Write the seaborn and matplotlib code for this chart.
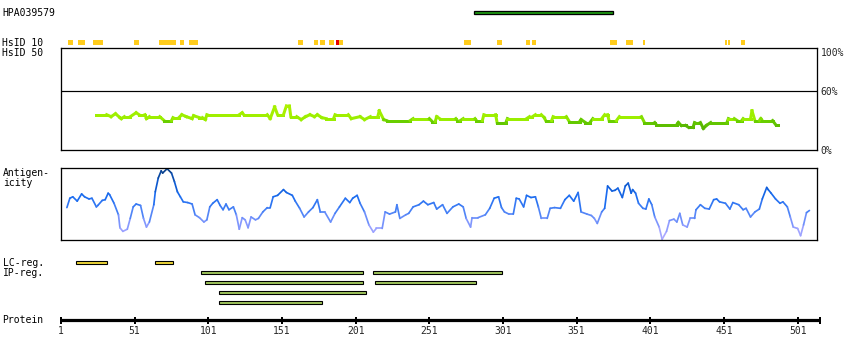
import numpy as np
import matplotlib
matplotlib.use("Agg")
import matplotlib.pyplot as plt
import seaborn as sns
from matplotlib.collections import LineCollection
from matplotlib.colors import LinearSegmentedColormap, Normalize

# --- data (residue positions) ---
protein_length = 516
protein_ticks = [1, 51, 101, 151, 201, 251, 301, 351, 401, 451, 501]

antigen_name = "HPA039579"
antigen_start = 281
antigen_end = 376

# HsID 10 hits (start, end, 1 = high identity)
hsid10_start = [6, 13, 23, 26, 51, 68, 76, 82, 88, 162, 173, 177, 183, 188, 190,
                275, 297, 317, 321, 374, 385, 396, 452, 454, 463]
hsid10_end = [9, 17, 25, 29, 54, 76, 79, 84, 94, 165, 175, 180, 186, 190, 192,
              279, 300, 319, 323, 378, 389, 397, 453, 455, 465]
hsid10_high = [0, 0, 0, 0, 0, 0, 0, 0, 0, 0, 0, 0, 0, 1, 0,
               0, 0, 0, 0, 0, 0, 0, 0, 0, 0]

# HsID 50 identity (%)
identity_pos = [25, 32, 35, 38, 41, 42, 44, 48, 52, 54,
                58, 59, 61, 68, 71, 76, 77, 81, 83, 86,
                90, 91, 95, 97, 99, 100, 122, 124, 125, 141,
                143, 146, 148, 152, 154, 156, 157, 161, 164, 167,
                170, 173, 175, 178, 181, 186, 187, 196, 198, 204,
                207, 211, 216, 217, 220, 222, 238, 240, 251, 253,
                255, 256, 258, 269, 270, 272, 274, 282, 283, 287,
                288, 296, 297, 303, 304, 317, 319, 321, 323, 327,
                329, 330, 334, 335, 344, 346, 353, 354, 357, 360,
                362, 368, 370, 372, 373, 378, 380, 395, 397, 404,
                405, 419, 420, 422, 425, 427, 430, 431, 435, 437,
                439, 442, 453, 454, 458, 460, 463, 464, 469, 470,
                472, 475, 476, 477, 484, 486, 488]
identity_pct = [36, 36, 34, 37, 33, 32, 34, 34, 38, 36,
                36, 32, 34, 34, 30, 30, 33, 33, 36, 34,
                32, 35, 33, 33, 31, 36, 36, 38, 36, 36,
                32, 44, 36, 36, 45, 45, 34, 34, 31, 34,
                36, 34, 36, 33, 32, 32, 36, 36, 32, 34,
                31, 34, 34, 40, 31, 30, 30, 32, 32, 29,
                29, 34, 32, 32, 30, 30, 32, 32, 30, 30,
                36, 36, 28, 28, 32, 32, 34, 34, 36, 36,
                33, 30, 30, 34, 34, 29, 29, 31, 28, 28,
                32, 32, 36, 36, 30, 30, 34, 34, 28, 28,
                26, 26, 28, 25, 25, 23, 23, 28, 28, 22,
                25, 28, 28, 32, 32, 30, 30, 32, 32, 40,
                30, 30, 32, 30, 30, 26, 26]

# antigenicity score (0-100)
antigenicity_pos = [5, 7, 9, 12, 15, 17, 20, 22, 25, 26,
                    29, 31, 33, 34, 37, 40, 41, 43, 46, 48,
                    50, 52, 55, 57, 59, 61, 64, 65, 67, 69,
                    70, 73, 76, 78, 80, 82, 84, 87, 90, 92,
                    95, 98, 100, 102, 104, 107, 109, 111, 113, 115,
                    118, 120, 122, 124, 126, 128, 130, 133, 135, 138,
                    141, 143, 145, 148, 152, 154, 158, 160, 163, 166,
                    169, 172, 175, 177, 180, 184, 187, 190, 194, 197,
                    199, 202, 204, 207, 210, 213, 215, 219, 221, 224,
                    228, 229, 231, 235, 237, 240, 244, 247, 250, 254,
                    256, 260, 263, 267, 271, 274, 276, 279, 280, 284,
                    289, 292, 295, 298, 300, 302, 305, 308, 310, 312,
                    315, 317, 320, 323, 325, 327, 331, 333, 336, 340,
                    343, 346, 349, 352, 354, 358, 361, 363, 365, 368,
                    370, 372, 375, 377, 379, 382, 384, 386, 388, 389,
                    391, 393, 396, 398, 400, 402, 404, 407, 409, 412,
                    414, 417, 419, 421, 423, 426, 428, 431, 432, 435,
                    438, 441, 444, 446, 448, 452, 455, 457, 461, 464,
                    466, 469, 472, 475, 477, 480, 481, 483, 486, 489,
                    491, 494, 496, 498, 501, 503, 505, 507, 509]
antigenicity_score = [45, 58, 60, 54, 64, 60, 57, 58, 46, 48,
                      55, 56, 65, 63, 51, 35, 17, 12, 15, 30,
                      46, 50, 48, 30, 18, 25, 49, 67, 86, 96,
                      93, 99, 93, 81, 67, 60, 53, 52, 50, 35,
                      31, 25, 28, 46, 51, 56, 48, 42, 50, 42,
                      46, 35, 15, 31, 28, 17, 32, 28, 30, 39,
                      45, 45, 60, 62, 70, 66, 62, 54, 44, 32,
                      39, 45, 56, 39, 39, 25, 37, 46, 58, 52,
                      58, 62, 51, 39, 21, 11, 16, 16, 39, 36,
                      39, 49, 30, 35, 37, 46, 49, 54, 49, 52,
                      43, 49, 37, 46, 50, 46, 30, 18, 31, 31,
                      35, 44, 58, 60, 45, 39, 36, 36, 58, 57,
                      46, 62, 59, 60, 46, 30, 30, 44, 45, 44,
                      56, 62, 54, 66, 39, 36, 34, 30, 23, 39,
                      44, 75, 68, 69, 72, 59, 75, 79, 65, 70,
                      65, 51, 44, 43, 57, 49, 32, 18, 1, 12,
                      27, 29, 25, 37, 21, 18, 30, 30, 42, 49,
                      44, 43, 56, 57, 53, 51, 43, 52, 49, 42,
                      44, 32, 39, 43, 57, 73, 70, 65, 57, 51,
                      53, 46, 32, 18, 16, 6, 21, 38, 41]

# LC / IP regions
lc_start = [11, 65]
lc_end = [32, 77]
ip_start = [96, 213, 99, 214, 108, 108]
ip_end = [206, 300, 206, 283, 208, 178]
ip_row = [0, 0, 1, 1, 2, 3]

# --- layout (pixels) ---
W, H = 850, 360
X_RES1 = 61            # pixel x of residue 1
PX_PER_RES = 1.4733
PX = 0.72              # 1 pixel in points

sns.set_theme(style="white")
plt.rcParams["font.family"] = ["DejaVu Sans Mono", "DejaVu Sans"]
plt.rcParams["font.size"] = 7


def res_at(px):
    return 1 + (px - X_RES1) / PX_PER_RES


def add_axes_px(fig, x0, y0, x1, y1):
    ax = fig.add_axes([x0 / W, 1 - y1 / H, (x1 - x0) / W, (y1 - y0) / H])
    ax.set_xlim(res_at(x0), res_at(x1))
    return ax


def label(fig, x, y, s, **kw):
    fig.text(x / W, 1 - y / H, s, va="center", fontsize=7, color="black", **kw)


fig = plt.figure(figsize=(W / 100, H / 100), dpi=100)
fig.patch.set_facecolor("white")

# tracks without frames, y in pixel rows
track = add_axes_px(fig, 0, 0, W, H)
track.set_ylim(H, 0)
track.axis("off")

# antigen bar
track.barh(12.5, antigen_end - antigen_start, left=antigen_start, height=3.6,
           color="#1f9f12", edgecolor="black", linewidth=1.3 * PX)

# HsID 10 marks
hs_left = np.array(hsid10_start) - 0.25
hs_width = np.array(hsid10_end) - np.array(hsid10_start) + 0.5
hs_col = ["#e80000" if h else "#ffcc1c" for h in hsid10_high]
track.barh(42.5, hs_width, left=hs_left, height=5, color=hs_col, linewidth=0)

# LC regions
track.barh(262.5, np.array(lc_end) - np.array(lc_start), left=lc_start, height=3.2,
           color="#f0d838", edgecolor="black", linewidth=1.1 * PX)
# IP regions
ip_y = 272.3 + 10 * np.array(ip_row)
track.barh(ip_y, np.array(ip_end) - np.array(ip_start), left=ip_start, height=3.2,
           color="#a0c65c", edgecolor="black", linewidth=1.1 * PX)

# protein axis
track.hlines(319.8, 1, protein_length, color="black", linewidth=3.2 * PX)
track.vlines(protein_ticks + [protein_length], 317, 324, color="black",
             linewidth=2 * PX)
for t in protein_ticks:
    track.text(t, 331.5, str(t), ha="center", va="center", fontsize=7)

# left labels
label(fig, 2, 13, antigen_name)
label(fig, 2, 42.5, "HsID 10")
label(fig, 2, 52.5, "HsID 50")
label(fig, 3, 173, "Antigen-")
label(fig, 3, 183, "icity")
label(fig, 3, 263, "LC-reg.")
label(fig, 3, 273, "IP-reg.")
label(fig, 2, 319.7, "Protein")

# identity panel
ax_id = add_axes_px(fig, 61, 48, 817, 150)
ax_id.set_ylim(0, 104)
ax_id.axhline(60, color="black", linewidth=1.2 * PX)
id_cmap = LinearSegmentedColormap.from_list(
    "ident", [(0.0, "#4fa800"), (0.38, "#66cc00"), (0.46, "#99ee00"), (1.0, "#b2f200")])
pts = np.column_stack([identity_pos, identity_pct]).astype(float)
segs = np.stack([pts[:-1], pts[1:]], axis=1)
lc = LineCollection(segs, cmap=id_cmap, norm=Normalize(20, 46),
                    linewidths=3 * PX, capstyle="projecting")
lc.set_array((pts[:-1, 1] + pts[1:, 1]) / 2)
ax_id.add_collection(lc)
ax_id.yaxis.tick_right()
ax_id.set_yticks([0, 60, 100])
ax_id.set_yticklabels(["0%", "60%", "100%"])
ax_id.tick_params(axis="y", length=0, pad=2.5, labelsize=7)
ax_id.set_xticks([])

# antigenicity panel
ax_ag = add_axes_px(fig, 61, 168, 817, 240)
ax_ag.set_ylim(0, 100)
ag_cmap = sns.blend_palette(["#b6aeff", "#8f9cff", "#4a82f6", "#1a6cf0",
                             "#0b55c8", "#0a3d80"], as_cmap=True)
pts = np.column_stack([antigenicity_pos, antigenicity_score]).astype(float)
segs = np.stack([pts[:-1], pts[1:]], axis=1)
lc = LineCollection(segs, cmap=ag_cmap, norm=Normalize(0, 100),
                    linewidths=1.7 * PX, capstyle="round")
lc.set_array((pts[:-1, 1] + pts[1:, 1]) / 2)
ax_ag.add_collection(lc)
ax_ag.set_xticks([])
ax_ag.set_yticks([])

for ax in (ax_id, ax_ag):
    ax.set_facecolor("none")
    for sp in ax.spines.values():
        sp.set_visible(True)
        sp.set_color("black")
        sp.set_linewidth(1.3 * PX)

fig.savefig("out.png", dpi=100, facecolor="white")
